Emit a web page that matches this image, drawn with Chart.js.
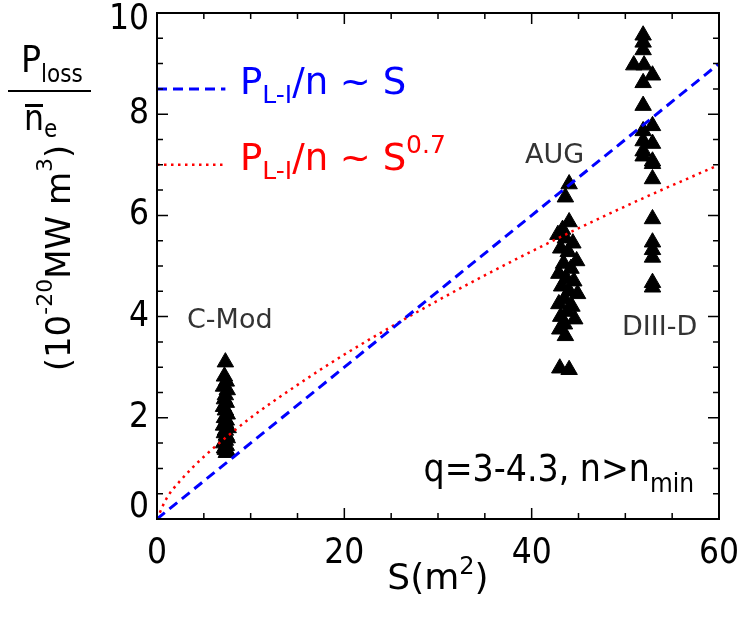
<!DOCTYPE html>
<html>
<head>
<meta charset="utf-8">
<script src="https://cdn.jsdelivr.net/npm/chart.js@4.4.1/dist/chart.umd.min.js"></script>
<style>
  html, body { margin: 0; padding: 0; background: #fff; }
  #wrap { width: 741px; height: 623px; }
</style>
</head>
<body>
<div id="wrap"><canvas id="chart" width="741" height="623"></canvas></div>
<script>
// values
const cmodS = [7.3, 7.2, 7.4, 7.1, 7.5, 7.3, 7.2, 7.4, 7.1, 7.3, 7.5, 7.2, 7.4, 7.3, 7.1, 7.6, 7.3, 7.2, 7.4, 7.5, 7.3, 7.1, 7.4, 7.2, 7.3, 7.5, 7.4];
const cmodP = [3.1, 2.82, 2.72, 2.62, 2.55, 2.45, 2.37, 2.3, 2.22, 2.15, 2.07, 2.0, 1.95, 1.9, 1.85, 1.8, 1.75, 1.7, 1.65, 1.6, 1.55, 1.5, 1.45, 1.4, 1.37, 1.34, 1.31];

const augS = [44.0, 43.6, 44.0, 43.3, 42.8, 43.6, 44.4, 43.1, 43.9, 44.8, 43.4, 44.2, 42.9, 43.7, 44.5, 43.2, 44.0, 44.9, 43.5, 42.9, 44.3, 43.8, 43.1, 44.6, 43.5, 43.0, 43.6, 43.0, 44.0];
const augP = [6.62, 6.36, 5.87, 5.72, 5.62, 5.55, 5.45, 5.35, 5.28, 5.1, 5.05, 4.95, 4.85, 4.75, 4.7, 4.6, 4.5, 4.45, 4.35, 4.25, 4.2, 4.1, 4.0, 3.95, 3.85, 3.75, 3.62, 2.98, 2.95];

const d3dS = [51.9, 51.9, 51.9, 50.9, 52.0, 52.9, 51.9, 51.9, 52.9, 51.9, 51.9, 52.9, 51.9, 52.9, 51.9, 52.9, 52.9, 52.9, 52.9, 52.9, 52.9, 52.9, 52.9];
const d3dP = [9.56, 9.42, 9.27, 8.97, 8.97, 8.77, 8.62, 8.17, 7.77, 7.67, 7.47, 7.42, 7.27, 7.07, 7.17, 7.02, 6.72, 5.93, 5.47, 5.32, 5.17, 4.67, 4.58];

// scaling lines
const linS = [0, 60];
const linP = [0, 9.0];
const powS = [0, 1, 2.5, 5, 10, 15, 20, 30, 40, 50, 60];
const powP = [0, 0.40, 0.76, 1.23, 2.0, 2.65, 3.25, 4.32, 5.29, 6.18, 7.0];

// legend sample lines
const keyS = [0, 7.3];
const keyBlueP = [8.5, 8.5];
const keyRedP = [7.0, 7.0];

const COND = '"DejaVu Sans Condensed", "DejaVu Sans", sans-serif';
const WIDE = '"DejaVu Sans", sans-serif';

function pts(xs, ys) {
  return xs.map((x, i) => ({ x: x, y: ys[i] }));
}

function triSet(xs, ys) {
  return {
    data: pts(xs, ys),
    pointStyle: 'triangle',
    pointRadius: 9.5,
    backgroundColor: '#000',
    borderColor: '#000',
    borderWidth: 1,
    showLine: false,
    order: 2
  };
}

function lineSet(xs, ys, color, dash, width) {
  return {
    data: pts(xs, ys),
    showLine: true,
    pointRadius: 0,
    borderColor: color,
    borderWidth: width,
    borderDash: dash,
    cubicInterpolationMode: 'monotone',
    fill: false,
    order: 0
  };
}

// text pieces with sub/superscripts: [text, size, dy]
function richWidth(ctx, parts, fam) {
  let w = 0;
  parts.forEach(p => {
    ctx.font = p[1] + 'px ' + fam;
    w += ctx.measureText(p[0]).width;
  });
  return w;
}

function rich(ctx, x, y, parts, color, fam, align) {
  const w = richWidth(ctx, parts, fam);
  if (align === 'center') x -= w / 2;
  if (align === 'right') x -= w;
  ctx.fillStyle = color;
  ctx.textBaseline = 'alphabetic';
  ctx.textAlign = 'left';
  parts.forEach(p => {
    ctx.font = p[1] + 'px ' + fam;
    ctx.fillText(p[0], x, y + (p[2] || 0));
    x += ctx.measureText(p[0]).width;
  });
}

function noPad(s) {
  s.paddingTop = 0; s.paddingBottom = 0;
  s.paddingLeft = 0; s.paddingRight = 0;
}

const decor = {
  id: 'decor',
  afterDatasetsDraw(chart) {
    const ctx = chart.ctx;
    const a = chart.chartArea;
    const xs = chart.scales.x, ys = chart.scales.y;
    ctx.save();
    ctx.strokeStyle = '#000';
    ctx.lineWidth = 2;
    ctx.strokeRect(a.left, a.top, a.right - a.left, a.bottom - a.top);

    // inward ticks on all four sides
    ctx.lineWidth = 1.5;
    ctx.beginPath();
    xs.ticks.forEach(t => {
      const px = xs.getPixelForValue(t.value);
      const len = t.value % 20 === 0 ? 11 : 6;
      ctx.moveTo(px, a.bottom); ctx.lineTo(px, a.bottom - len);
      ctx.moveTo(px, a.top); ctx.lineTo(px, a.top + len);
    });
    ys.ticks.forEach(t => {
      const py = ys.getPixelForValue(t.value);
      const len = t.value % 2 === 0 ? 11 : 6;
      ctx.moveTo(a.left, py); ctx.lineTo(a.left + len, py);
      ctx.moveTo(a.right, py); ctx.lineTo(a.right - len, py);
    });
    ctx.stroke();

    // y tick labels, kept inside the frame height like the original
    ctx.fillStyle = '#000';
    ctx.font = '35px ' + COND;
    ctx.textAlign = 'right';
    ctx.textBaseline = 'middle';
    ys.ticks.forEach(t => {
      if (t.value % 2 !== 0) return;
      let py = ys.getPixelForValue(t.value);
      py = Math.min(Math.max(py, a.top + 7), a.bottom - 11);
      ctx.fillText(String(t.value), a.left - 8, py);
    });

    // legend text
    rich(ctx, 240, 94, [['P', 37], ['L-I', 25, 9], ['/n ~ S', 37]], '#0000ff', WIDE);
    rich(ctx, 240, 170, [['P', 37], ['L-I', 25, 9], ['/n ~ S', 37], ['0.7', 25, -17]], '#ff0000', WIDE);

    // machine labels
    rich(ctx, 187, 328, [['C-Mod', 27]], '#333', WIDE);
    rich(ctx, 525, 163, [['AUG', 27]], '#333', WIDE);
    rich(ctx, 622, 335, [['DIII-D', 27]], '#333', WIDE);
    rich(ctx, 694, 481, [['q=3-4.3, n>n', 37], ['min', 26, 11]], '#000', COND, 'right');

    // x title
    rich(ctx, 438, 589, [['S(m', 36], ['2', 24, -15], [')', 36]], '#000', WIDE, 'center');

    // y title: fraction
    rich(ctx, 21, 72, [['P', 37], ['loss', 24, 10]], '#000', COND);
    ctx.fillStyle = '#000';
    ctx.fillRect(8, 90, 83, 2);
    rich(ctx, 24, 130, [['n', 35], ['e', 24, 7]], '#000', COND);
    ctx.fillRect(25, 104, 18, 3);

    // y title: units, rotated
    ctx.translate(70, 258);
    ctx.rotate(-Math.PI / 2);
    rich(ctx, 0, 0, [['(10', 34], ['-20', 22, -18], ['MW m', 34], ['3', 22, -18], [')', 34]], '#000', WIDE, 'center');
    ctx.restore();
  }
};

new Chart(document.getElementById('chart'), {
  type: 'scatter',
  data: {
    datasets: [
      lineSet(linS, linP, '#0000ff', [10, 6], 3),
      lineSet(powS, powP, '#ff0000', [2.5, 4.5], 2.5),
      lineSet(keyS, keyBlueP, '#0000ff', [10, 6], 3),
      lineSet(keyS, keyRedP, '#ff0000', [2.5, 4.5], 2.5),
      triSet(cmodS, cmodP),
      triSet(augS, augP),
      triSet(d3dS, d3dP)
    ]
  },
  options: {
    responsive: false,
    animation: false,
    events: [],
    devicePixelRatio: 1,
    layout: { autoPadding: false, padding: { top: 13, right: 22, left: 0, bottom: 0 } },
    plugins: { legend: { display: false }, tooltip: { enabled: false } },
    scales: {
      x: {
        type: 'linear', min: 0, max: 60,
        grid: { display: false, drawTicks: false },
        border: { display: false },
        ticks: {
          stepSize: 5, autoSkip: false, maxRotation: 0, padding: 14,
          color: '#000', font: { family: COND, size: 35 },
          callback: v => (v % 20 === 0 ? v : '')
        },
        afterFit(s) { s.height = 104; noPad(s); }
      },
      y: {
        type: 'linear', min: 0, max: 10,
        grid: { display: false, drawTicks: false },
        border: { display: false },
        ticks: { stepSize: 0.5, autoSkip: false, display: false },
        afterFit(s) { s.width = 157; noPad(s); }
      }
    }
  },
  plugins: [decor]
});
</script>
</body>
</html>
